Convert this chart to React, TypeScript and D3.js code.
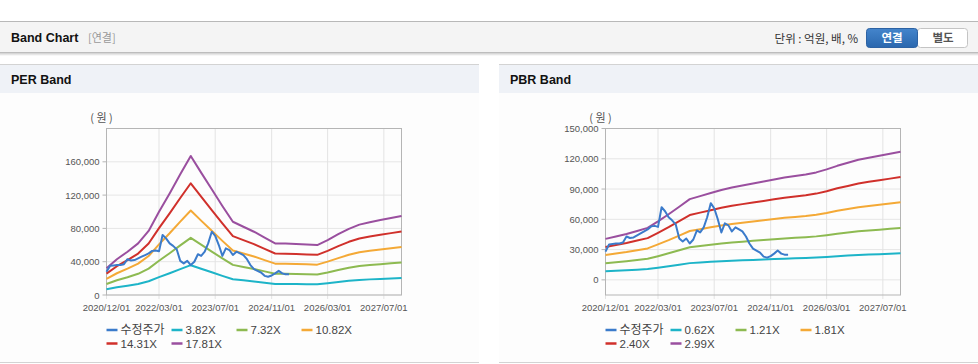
import React from "react";
import * as d3 from "d3";

// ---------- data ----------
const PRICE_LABEL = "수정주가";
const PRICE_START = "2020/12/01"; // monthly observations
const PRICE = [
  28000, 35000, 35500, 36000, 36000, 37000, 43000, 41500, 42000, 44000,
  46000, 48000, 50000, 53000, 53500, 52500, 72000, 68000, 62000, 59000,
  55000, 41000, 38000, 41000, 36000, 40000, 49000, 47000, 52000, 62000,
  76000, 71000, 60000, 47000, 56000, 54000, 48000, 52000, 50000, 48000,
  43000, 36000, 31000, 29000, 27000, 23000, 22000, 23500, 26000, 29000,
  26000, 25000, 25000,
];

const BAND_DATES = [
  "2020/12/01", "2021/03/01", "2021/06/01", "2021/09/01", "2021/12/01",
  "2022/03/01", "2022/06/01", "2022/09/01", "2022/12/01", "2023/03/01",
  "2023/06/01", "2023/09/01", "2023/12/01", "2024/03/01", "2024/06/01",
  "2024/09/01", "2024/12/01", "2025/03/01", "2025/06/01", "2025/09/01",
  "2025/12/01", "2026/03/01", "2026/06/01", "2026/09/01", "2026/12/01",
  "2027/03/01", "2027/06/01", "2027/09/01", "2027/12/01",
];

// EPS (PER band base)
const PER_EPS = [
  1797, 2414, 2920, 3481, 4323, 5615, 6850, 8141, 9377, 8254,
  7131, 6008, 4941, 4604, 4267, 3874, 3481, 3470, 3436, 3408,
  3369, 3706, 4099, 4464, 4745, 4913, 5053, 5194, 5334,
];
// BPS (PBR band base)
const PBR_BPS = [
  13579, 14381, 15217, 16221, 17224, 19398, 21739, 24247, 26756, 27759,
  28763, 29766, 30602, 31271, 31940, 32609, 33278, 33946, 34448, 34950,
  35619, 36622, 37793, 38796, 39799, 40468, 41137, 41806, 42475,
];

const PER_MULTIPLES = [3.82, 7.32, 10.82, 14.31, 17.81];
const PBR_MULTIPLES = [0.62, 1.21, 1.81, 2.4, 2.99];

const X_DOMAIN = ["2020/12/01", "2027/12/01"];
const X_TICKS = ["2020/12/01", "2022/03/01", "2023/07/01", "2024/11/01", "2026/03/01", "2027/07/01"];
const PER_Y_TICKS = [0, 40000, 80000, 120000, 160000];
const PER_Y_DOMAIN = [0, 200000];
const PBR_Y_TICKS = [0, 30000, 60000, 90000, 120000, 150000];
const PBR_Y_DOMAIN = [-15000, 150000];

const COLORS = ["#3b7bcb", "#1db4c8", "#8dba51", "#f4a936", "#d0302b", "#9a4f9f"];

// ---------- helpers ----------
const parse = d3.timeParse("%Y/%m/%d");
const FONT = "'Liberation Sans', Arial, 'Noto Sans CJK KR', sans-serif";
const KFONT = "'Noto Sans CJK KR', 'Liberation Sans', sans-serif";

type Props = {
  plotLeft: number;
  plotRight: number;
  plotTop: number;
  plotBottom: number;
  yDomain: number[];
  yTicks: number[];
  base: number[];
  multiples: number[];
};

function BandChart(p: Props) {
  const x = d3
    .scaleTime()
    .domain(X_DOMAIN.map((s) => parse(s) as Date))
    .range([p.plotLeft, p.plotRight]);
  const y = d3.scaleLinear().domain(p.yDomain).range([p.plotBottom, p.plotTop]);
  const bandDates = BAND_DATES.map((s) => parse(s) as Date);
  const start = parse(PRICE_START) as Date;
  const priceData = PRICE.map((v, i) => ({ d: d3.timeMonth.offset(start, i), v }));
  const line = d3
    .line<{ d: Date; v: number }>()
    .x((q) => x(q.d))
    .y((q) => y(q.v));
  const fmt = d3.format(",");
  const xTicks = X_TICKS.map((s) => ({ s, d: parse(s) as Date }));
  const legend = [PRICE_LABEL, ...p.multiples.map((m) => m.toFixed(2) + "X")];

  return (
    <g>
      {/* grid */}
      {p.yTicks.map((t) => (
        <line key={"gy" + t} x1={p.plotLeft} x2={p.plotRight} y1={y(t)} y2={y(t)} stroke="#e6e6e6" strokeWidth={1} />
      ))}
      {xTicks.map((t) => (
        <line key={"gx" + t.s} x1={x(t.d)} x2={x(t.d)} y1={p.plotTop} y2={p.plotBottom + 4} stroke="#e3e3e3" strokeWidth={1} />
      ))}
      {/* frame */}
      <rect
        x={p.plotLeft}
        y={p.plotTop}
        width={p.plotRight - p.plotLeft}
        height={p.plotBottom - p.plotTop}
        fill="none"
        stroke="#b5b5b5"
        strokeWidth={1}
      />
      {/* y ticks */}
      {p.yTicks.map((t) => (
        <g key={"ty" + t}>
          <line x1={p.plotLeft - 4} x2={p.plotLeft} y1={y(t)} y2={y(t)} stroke="#b5b5b5" />
          <text x={p.plotLeft - 7} y={y(t) + 3.5} textAnchor="end" fontSize={9.5} fill="#555" fontFamily={FONT}>
            {fmt(t)}
          </text>
        </g>
      ))}
      <text x={p.plotLeft - 5} y={p.plotTop - 7} textAnchor="middle" fontSize={11} fill="#555" fontFamily={KFONT}>
        ( 원 )
      </text>
      {/* x labels */}
      {xTicks.map((t) => (
        <text key={"tx" + t.s} x={x(t.d)} y={p.plotBottom + 16} textAnchor="middle" fontSize={9.5} fill="#555" fontFamily={FONT}>
          {t.s}
        </text>
      ))}
      {/* bands */}
      {p.multiples.map((m, i) => (
        <path
          key={"b" + m}
          d={line(bandDates.map((d, j) => ({ d, v: p.base[j] * m }))) || ""}
          fill="none"
          stroke={COLORS[i + 1]}
          strokeWidth={2}
          strokeLinejoin="round"
        />
      ))}
      {/* price */}
      <path d={line(priceData) || ""} fill="none" stroke={COLORS[0]} strokeWidth={2} strokeLinejoin="round" />
      {/* legend */}
      {legend.map((lab, i) => {
        const lx = p.plotLeft + (i % 4) * 65;
        const ly = 330 + Math.floor(i / 4) * 13.5;
        return (
          <g key={"lg" + i}>
            <line x1={lx} x2={lx + 11} y1={ly} y2={ly} stroke={COLORS[i]} strokeWidth={2.5} />
            <text x={lx + 14} y={ly + 4} fontSize={i === 0 ? 12 : 11.5} fill="#444" fontFamily={i === 0 ? KFONT : FONT}>
              {lab}
            </text>
          </g>
        );
      })}
    </g>
  );
}

export default function App() {
  return (
    <svg
      width={978}
      height={364}
      style={{ position: "absolute", left: 0, top: 0, background: "#fff" }}
      fontFamily={FONT}
    >
      <defs>
        <linearGradient id="btnBlue" x1="0" y1="0" x2="0" y2="1">
          <stop offset="0" stopColor="#4485cc" />
          <stop offset="1" stopColor="#2a67ae" />
        </linearGradient>
        <linearGradient id="shadow" x1="0" y1="0" x2="0" y2="1">
          <stop offset="0" stopColor="#cfcfcf" />
          <stop offset="1" stopColor="#ffffff" />
        </linearGradient>
      </defs>
      {/* top header bar */}
      <rect x={0} y={21} width={978} height={1} fill="#b8b8b8" />
      <rect x={0} y={22} width={978} height={30} fill="#f4f4f4" />
      <rect x={0} y={52} width={978} height={1} fill="#bdbdbd" />
      <rect x={0} y={53} width={978} height={3} fill="url(#shadow)" />
      <text x={11} y={42} fontSize={12.5} fontWeight="bold" fill="#111" fontFamily={FONT}>
        Band Chart
      </text>
      <text x={88} y={42} fontSize={11} fill="#999" fontFamily={KFONT}>
        [연결]
      </text>
      <text x={858} y={43} textAnchor="end" fontSize={11.5} fill="#333" fontFamily={KFONT}>
        단위 : 억원, 배, %
      </text>
      <rect x={917.5} y={28.5} width={50} height={19} rx={3} fill="#fff" stroke="#c4c4c4" />
      <rect x={866.5} y={28.5} width={51} height={19} rx={3} fill="url(#btnBlue)" stroke="#2d62a3" />
      <text x={892} y={42} textAnchor="middle" fontSize={11.5} fontWeight="bold" fill="#fff" fontFamily={KFONT}>
        연결
      </text>
      <text x={943} y={42} textAnchor="middle" fontSize={11.5} fontWeight="bold" fill="#555" fontFamily={KFONT}>
        별도
      </text>

      {/* panels */}
      {[{ x: 0, w: 479, title: "PER Band" }, { x: 499, w: 479, title: "PBR Band" }].map((pn) => (
        <g key={pn.title}>
          <rect x={pn.x} y={93} width={pn.w} height={269} fill="#fdfdfd" />
          <rect x={pn.x} y={64} width={pn.w} height={29} fill="#eff2f7" />
          <rect x={pn.x} y={64} width={pn.w} height={1} fill="#d3d3d3" />
          <rect x={pn.x} y={362} width={pn.w} height={1} fill="#d3d3d3" />
          <text x={pn.x + 11} y={84} fontSize={12.5} fontWeight="bold" fill="#111" fontFamily={FONT}>
            {pn.title}
          </text>
        </g>
      ))}

      <BandChart
        plotLeft={106.5}
        plotRight={401.5}
        plotTop={128.5}
        plotBottom={295}
        yDomain={PER_Y_DOMAIN}
        yTicks={PER_Y_TICKS}
        base={PER_EPS}
        multiples={PER_MULTIPLES}
      />
      <BandChart
        plotLeft={605.5}
        plotRight={900.5}
        plotTop={128.5}
        plotBottom={295}
        yDomain={PBR_Y_DOMAIN}
        yTicks={PBR_Y_TICKS}
        base={PBR_BPS}
        multiples={PBR_MULTIPLES}
      />
    </svg>
  );
}
